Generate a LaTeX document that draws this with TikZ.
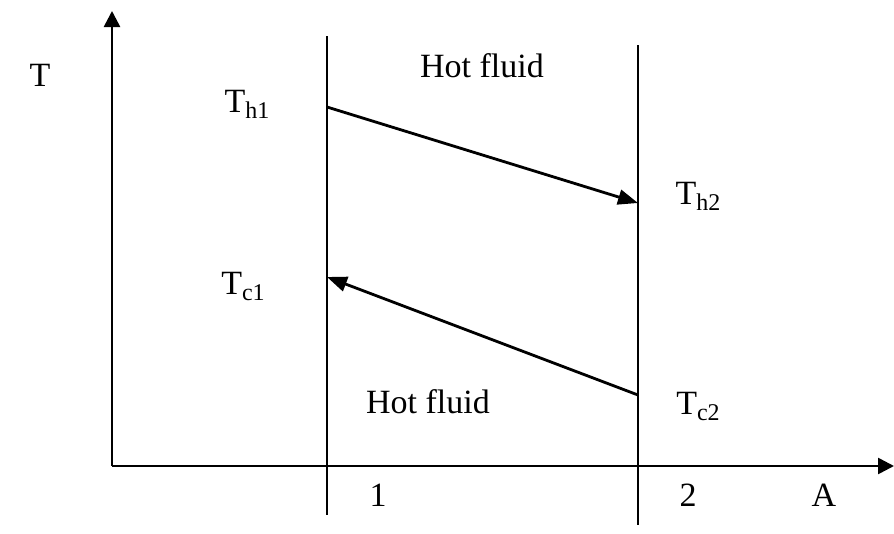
\documentclass[tikz,border=0pt]{standalone}
\usepackage{fontspec}
\setmainfont{Liberation Serif}
\usepackage{tikz}
\usetikzlibrary{arrows.meta}

\newcommand{\lowidx}[1]{\raisebox{-0.2em}{\fontsize{24}{26}\selectfont #1}}

\begin{document}
\begin{tikzpicture}[x=1pt, y=-1pt,
  font=\fontsize{34}{40}\selectfont,
  axis/.style={line width=2.6pt, -{Triangle[length=16pt, width=16pt]}},
  wall/.style={line width=2.4pt},
  flow/.style={line width=2.8pt, -{Triangle[length=20pt, width=15pt]}},
  lbl/.style={inner sep=0pt, anchor=base}]
  \useasboundingbox (0,0) rectangle (894,533);
  % axes
  \coordinate (O) at (112,466);
  \coordinate (ytip) at (112,11);
  \coordinate (xtip) at (894,466);
  \draw[axis] (O) -- (ytip);
  \draw[axis] (O) -- (xtip);
  % the two ends of the exchanger
  \foreach \n/\x/\top/\bot in {1/327/36/515, 2/638/45/525} {
    \coordinate (w\n top) at (\x,\top);
    \coordinate (w\n bot) at (\x,\bot);
    \draw[wall] (w\n top) -- (w\n bot);
  }
  % hot and cold streams
  \coordinate (h1) at (327,107);
  \coordinate (h2) at (638,203);
  \coordinate (c1) at (327,277);
  \coordinate (c2) at (638,395);
  \draw[flow] (h1) -- (h2);
  \draw[flow] (c2) -- (c1);
  % labels
  \node[lbl] (tT) at (40,86) {T};
  \node[lbl] (tA) at (824,506) {A};
  \node[lbl] (t1) at (378,506) {1};
  \node[lbl] (t2) at (688,506) {2};
  \node[lbl] (hot) at (482,77) {Hot fluid};
  \node[lbl] (cold) at (428,413) {Hot fluid};
  \node[lbl] (th1) at (247,112) {T\lowidx{h1}};
  \node[lbl] (th2) at (698,204) {T\lowidx{h2}};
  \node[lbl] (tc1) at (243,294) {T\lowidx{c1}};
  \node[lbl] (tc2) at (698,414) {T\lowidx{c2}};
\end{tikzpicture}
\end{document}
